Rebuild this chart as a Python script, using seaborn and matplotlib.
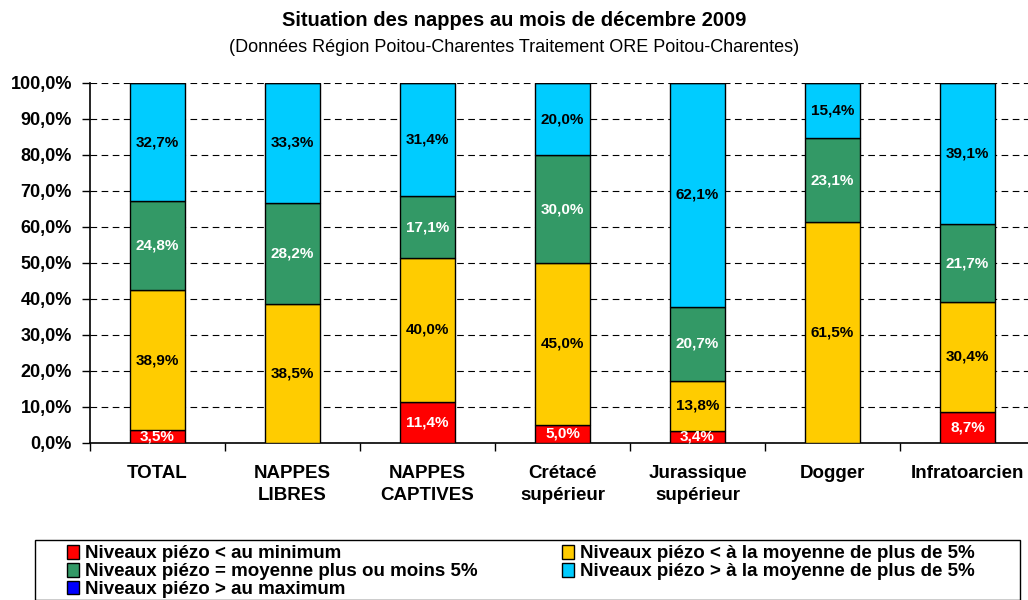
import numpy as np
import matplotlib.pyplot as plt
import seaborn as sns
from matplotlib.patches import Patch, Rectangle

categories = ['TOTAL', 'NAPPES\nLIBRES', 'NAPPES\nCAPTIVES', 'Crétacé\nsupérieur',
              'Jurassique\nsupérieur', 'Dogger', 'Infratoarcien']
below_min = [3.5, 0.0, 11.4, 5.0, 3.4, 0.0, 8.7]
below_avg = [38.9, 38.5, 40.0, 45.0, 13.8, 61.5, 30.4]
near_avg = [24.8, 28.2, 17.1, 30.0, 20.7, 23.1, 21.7]
above_avg = [32.7, 33.3, 31.4, 20.0, 62.1, 15.4, 39.1]
above_max = [0.0, 0.0, 0.0, 0.0, 0.0, 0.0, 0.0]

series = [
    ('Niveaux piézo < au minimum', below_min, '#FF0000', 'white'),
    ('Niveaux piézo < à la moyenne de plus de 5%', below_avg, '#FFCC00', 'black'),
    ('Niveaux piézo = moyenne plus ou moins 5%', near_avg, '#339966', 'white'),
    ('Niveaux piézo > à la moyenne de plus de 5%', above_avg, '#00CCFF', 'black'),
    ('Niveaux piézo > au maximum', above_max, '#0000FF', 'white'),
]

sns.set_style('white')
plt.rcParams['font.family'] = ['Liberation Sans', 'DejaVu Sans']
plt.rcParams['text.color'] = 'black'
plt.rcParams['xtick.color'] = 'black'
plt.rcParams['ytick.color'] = 'black'

fig = plt.figure(figsize=(10.28, 6), dpi=100)
ax = fig.add_axes([90 / 1028, 1 - 443 / 600, 945 / 1028, 360 / 600])

bottom = np.zeros(len(categories))
for name, vals, color, tcolor in series:
    vals = np.array(vals)
    sns.barplot(x=categories, y=vals, bottom=bottom, color=color, width=0.41,
                edgecolor='black', linewidth=1, ax=ax, zorder=3, saturation=1)
    for i, v in enumerate(vals):
        if v > 0:
            ax.text(i, bottom[i] + v / 2, f'{v:.1f}%'.replace('.', ','),
                    ha='center', va='center', fontsize=11, fontweight='bold',
                    color=tcolor, zorder=4)
    bottom += vals

ax.set_ylim(0, 100)
ax.set_xlim(-0.5, len(categories) - 0.5)
ax.set_yticks(np.arange(0, 101, 10))
ax.set_yticklabels([f'{t:.1f}%'.replace('.', ',') for t in np.arange(0, 101, 10)],
                   fontsize=13, fontweight='bold')
ax.yaxis.grid(True, linestyle=(0, (6, 4)), color='black', linewidth=0.8, zorder=0)
ax.tick_params(axis='y', left=True, length=6, width=1, color='black', pad=7)
ax.tick_params(axis='x', which='major', length=0, pad=16)
ax.set_xticks(range(len(categories)))
ax.set_xticklabels(categories, fontsize=13.5, fontweight='bold', linespacing=1.35)
ax.set_xticks(np.arange(-0.5, len(categories), 1), minor=True)
ax.tick_params(axis='x', which='minor', bottom=True, length=6, width=1, color='black')
ax.set_xlabel('')
for s in ['top', 'right']:
    ax.spines[s].set_visible(False)
for s in ['left', 'bottom']:
    ax.spines[s].set_color('black')
    ax.spines[s].set_linewidth(1.2)

fig.text(0.5, 1 - 20 / 600, 'Situation des nappes au mois de décembre 2009',
         ha='center', va='center', fontsize=14.5, fontweight='bold')
fig.text(0.5, 1 - 47 / 600, '(Données Région Poitou-Charentes Traitement ORE Poitou-Charentes)',
         ha='center', va='center', fontsize=13)

# legend frame drawn separately so it can span the full width
fig.patches.append(Rectangle((35 / 1028, 0), 985 / 1028, 1 - 540 / 600,
                             transform=fig.transFigure, facecolor='white',
                             edgecolor='black', linewidth=1, zorder=0))
handles = [Patch(facecolor=c, edgecolor='black', label=n) for n, _, c, _ in series]
order = [0, 2, 4, 1, 3]
fig.legend([handles[i] for i in order], [handles[i].get_label() for i in order],
           ncol=2, loc='upper left', bbox_to_anchor=(67 / 1028, 1 - 545 / 600),
           frameon=False, prop={'weight': 'bold', 'size': 13.5},
           handlelength=0.65, handleheight=0.75, handletextpad=0.3,
           labelspacing=0.02, columnspacing=4.5, borderpad=0, borderaxespad=0)

fig.savefig('out.png', dpi=100)
